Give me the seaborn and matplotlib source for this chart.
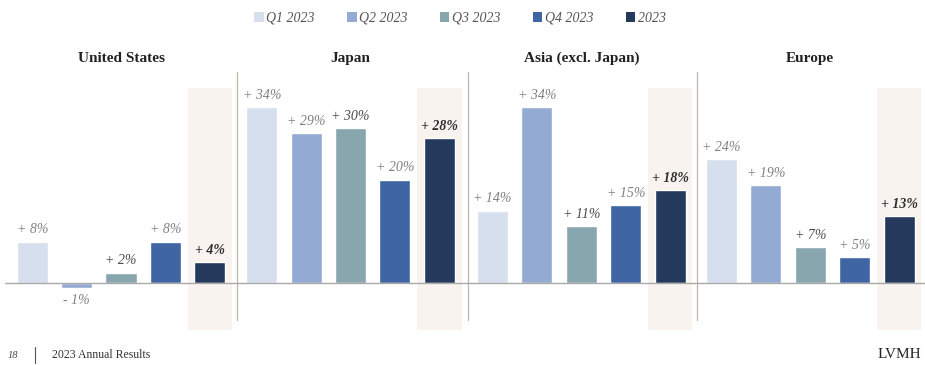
import matplotlib
matplotlib.use("Agg")
import matplotlib.pyplot as plt
import seaborn as sns
import pandas as pd
from matplotlib.lines import Line2D
from matplotlib.patches import Patch

regions = ["United States", "Japan", "Asia (excl. Japan)", "Europe"]
quarters = ["Q1 2023", "Q2 2023", "Q3 2023", "Q4 2023", "2023"]
us = [8, -1, 2, 8, 4]
japan = [34, 29, 30, 20, 28]
asia = [14, 34, 11, 15, 18]
europe = [24, 19, 7, 5, 13]
values = [us, japan, asia, europe]

colors = ["#d5dfed", "#93abd3", "#88a6ad", "#3f66a3", "#24395b"]
shade = "#f8f3ee"
SERIF = ["Liberation Serif", "DejaVu Serif"]

sns.set_theme(style="white")
plt.rcParams["font.family"] = SERIF

W, H = 925, 365
fig = plt.figure(figsize=(W / 100, H / 100), dpi=100)

px_per_pct = 5.17
base_y = 283
top_px, bot_px = 70, 335
ymax = (base_y - top_px) / px_per_pct
ymin = -(bot_px - base_y) / px_per_pct

lefts = [10, 239.5, 470.3, 699.3]
axw = 222

for r, (name, vals, left) in enumerate(zip(regions, values, lefts)):
    ax = fig.add_axes([left / W, 1 - bot_px / H, axw / W, (bot_px - top_px) / H])
    df = pd.DataFrame({"quarter": quarters, "value": vals})
    ax.axvspan(3.5, 4.5, ymin=(-9.1 - ymin) / (ymax - ymin),
               ymax=(37.7 - ymin) / (ymax - ymin), color=shade, lw=0, zorder=0)
    sns.barplot(data=df, x="quarter", y="value", hue="quarter", order=quarters,
                hue_order=quarters, palette=colors, width=0.7, saturation=1,
                legend=False, ax=ax, zorder=2)
    ax.set_xlim(-0.5, 4.5)
    ax.set_ylim(ymin, ymax)
    ax.axis("off")
    for i, v in enumerate(vals):
        sign = "+" if v >= 0 else "-"
        lab = f"{sign} {abs(v)}%"
        if i == 4:
            kw = dict(color="#2e2e2e", fontweight="bold")
        elif i == 2:
            kw = dict(color="#4a4a4a")
        else:
            kw = dict(color="#808080")
        if v >= 0:
            ax.text(i, v + 1.0, lab, ha="center", va="bottom", fontsize=10,
                    style="italic", **kw)
        else:
            ax.text(i, v - 1.2, lab, ha="center", va="top", fontsize=10,
                    style="italic", **kw)
    ax.text(2, (base_y - 58.5) / px_per_pct, name, ha="center", va="center",
            fontsize=11, fontweight="bold", color="#222222")
    if r > 0:
        sx = -0.5 - 2.5 / 44.4
        ax.plot([sx, sx], [(base_y - 72) / px_per_pct, -(320 - base_y) / px_per_pct],
                color="#bdb6ad", lw=0.9, clip_on=False, zorder=1)

# baseline
fig.add_artist(Line2D([5 / W, 1], [1 - base_y / H, 1 - base_y / H],
                      color="#a9a9a9", lw=1.0, zorder=3))

# legend
handles = [Patch(facecolor=c, edgecolor="none") for c in colors]
fig.legend(handles, quarters, loc="center", bbox_to_anchor=(460 / W, 1 - 18 / H),
           ncol=5, frameon=False, prop={"family": SERIF, "style": "italic", "size": 10},
           labelcolor="#555555", handlelength=0.7, handleheight=0.7,
           handletextpad=0.2, columnspacing=2.3)

# footer
fig.text(8 / W, 1 - 355 / H, "18", fontsize=7.5, style="italic", color="#444444",
         va="center", ha="left")
fig.add_artist(Line2D([35 / W, 35 / W], [1 - 347 / H, 1 - 363 / H], color="#555555", lw=0.8))
fig.text(52 / W, 1 - 355 / H, "2023 Annual Results", fontsize=8.5, color="#333333",
         va="center", ha="left")
fig.text(921 / W, 1 - 355 / H, "LVMH", fontsize=11, color="#222222",
         va="center", ha="right")

fig.savefig("out.png", dpi=100, facecolor="white")
